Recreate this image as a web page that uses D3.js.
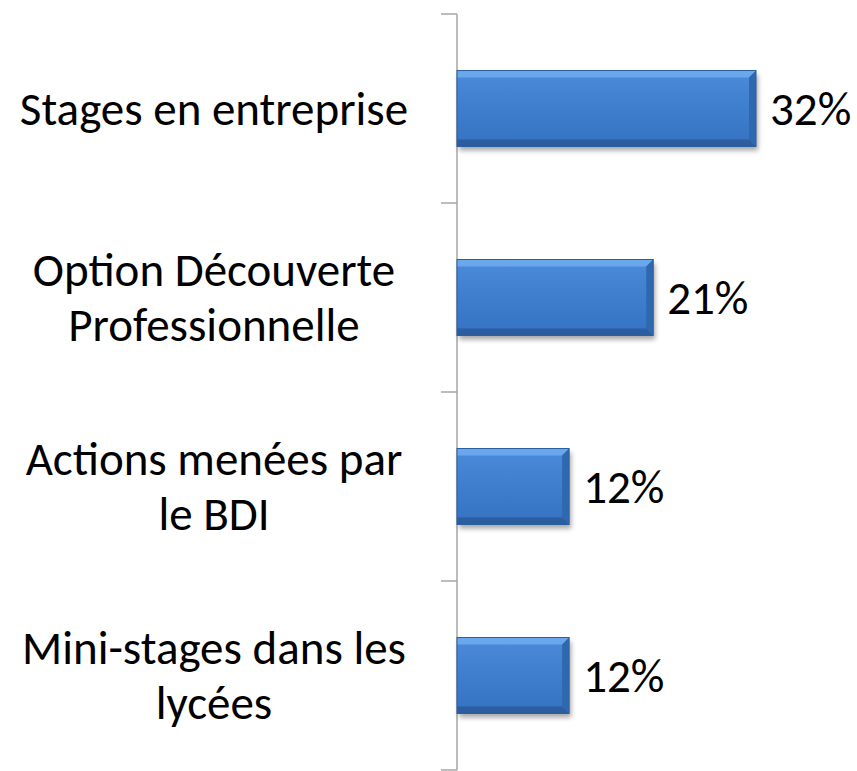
<!DOCTYPE html>
<meta charset="utf-8">
<style>
body { margin: 0; background: #fff; }
svg { font-family: Carlito, Calibri, Lato, "Open Sans", sans-serif; }
.label { font-size: 47px; fill: #000; }
</style>
<svg width="857" height="771"></svg>
<script src="https://cdn.jsdelivr.net/npm/d3@7"></script>
<script>

var categories = [
  ["Stages en entreprise"],
  ["Option Découverte", "Professionnelle"],
  ["Actions menées par", "le BDI"],
  ["Mini-stages dans les", "lycées"]
];
var values = [0.32, 0.21, 0.12, 0.12];
var valueLabels = ["32%", "21%", "12%", "12%"];

var data = categories.map(function(c, i) {
  return { name: c.join(" "), lines: c, value: values[i], label: valueLabels[i] };
});

var svg = d3.select("svg"),
    axisX = 457,
    yTop = 14,
    yBottom = 770,
    lineHeight = 55,
    bevel = 7;

var y = d3.scaleBand()
    .domain(data.map(function(d) { return d.name; }))
    .range([yTop, yBottom])
    .paddingInner(0.598)
    .paddingOuter(0.299);

var x = d3.scaleLinear()
    .domain([0, 0.32])
    .range([axisX, 756]);

var defs = svg.append("defs");

var grad = defs.append("linearGradient")
    .attr("id", "barGrad")
    .attr("x1", 0).attr("y1", 0).attr("x2", 0).attr("y2", 1);
grad.append("stop").attr("offset", "0%").attr("stop-color", "#4b8bd9");
grad.append("stop").attr("offset", "50%").attr("stop-color", "#3e7ecd");
grad.append("stop").attr("offset", "100%").attr("stop-color", "#3472c2");

var shadow = defs.append("filter")
    .attr("id", "shadow")
    .attr("x", "-10%").attr("y", "-10%")
    .attr("width", "130%").attr("height", "140%");
shadow.append("feGaussianBlur").attr("in", "SourceAlpha").attr("stdDeviation", 2.5);
shadow.append("feOffset").attr("dx", 2).attr("dy", 4).attr("result", "off");
shadow.append("feComponentTransfer").append("feFuncA").attr("type", "linear").attr("slope", 0.35);
var merge = shadow.append("feMerge");
merge.append("feMergeNode");
merge.append("feMergeNode").attr("in", "SourceGraphic");

// axis line + ticks at band boundaries
svg.append("line")
    .attr("x1", axisX).attr("x2", axisX)
    .attr("y1", yTop).attr("y2", yBottom)
    .attr("stroke", "#a6a6a6")
    .attr("stroke-width", 1.5);

svg.selectAll(".tick")
    .data(d3.range(data.length + 1))
    .enter().append("line")
    .attr("class", "tick")
    .attr("x1", axisX - 16).attr("x2", axisX)
    .attr("y1", function(i) { return yTop + i * y.step(); })
    .attr("y2", function(i) { return yTop + i * y.step(); })
    .attr("stroke", "#a6a6a6")
    .attr("stroke-width", 1.5);

var bar = svg.selectAll(".bar")
    .data(data)
    .enter().append("g")
    .attr("class", "bar")
    .attr("transform", function(d) { return "translate(" + axisX + "," + y(d.name) + ")"; });

bar.append("rect")
    .attr("width", function(d) { return x(d.value) - axisX; })
    .attr("height", y.bandwidth())
    .attr("fill", "url(#barGrad)")
    .attr("filter", "url(#shadow)");

// bevel: top light, bottom dark, right dark
bar.append("polygon")
    .attr("points", function(d) {
      var w = x(d.value) - axisX;
      return [[0, 0], [w, 0], [w - bevel, bevel], [0, bevel]].join(" ");
    })
    .attr("fill", "#6dabee")
    .attr("opacity", 0.9);

bar.append("polygon")
    .attr("points", function(d) {
      var w = x(d.value) - axisX, h = y.bandwidth();
      return [[0, h], [w, h], [w - bevel, h - bevel], [0, h - bevel]].join(" ");
    })
    .attr("fill", "#2b5d9f");

bar.append("polygon")
    .attr("points", function(d) {
      var w = x(d.value) - axisX, h = y.bandwidth();
      return [[w, 0], [w, h], [w - bevel, h - bevel], [w - bevel, bevel]].join(" ");
    })
    .attr("fill", "#3068b0");

bar.append("rect")
    .attr("width", function(d) { return x(d.value) - axisX; })
    .attr("height", y.bandwidth())
    .attr("fill", "none")
    .attr("stroke", "#2d5f9f")
    .attr("stroke-width", 1);

// value labels
svg.selectAll(".value")
    .data(data)
    .enter().append("text")
    .attr("class", "label value")
    .attr("x", function(d) { return x(d.value) + 14; })
    .attr("y", function(d) { return y(d.name) + y.bandwidth() / 2; })
    .attr("dy", "0.35em")
    .text(function(d) { return d.label; });

// category labels
var cat = svg.selectAll(".cat")
    .data(data)
    .enter().append("text")
    .attr("class", "label cat")
    .attr("text-anchor", "middle");

cat.selectAll("tspan")
    .data(function(d) {
      var mid = y(d.name) + y.bandwidth() / 2;
      return d.lines.map(function(l, i) {
        return { text: l, y: mid + (i - (d.lines.length - 1) / 2) * lineHeight };
      });
    })
    .enter().append("tspan")
    .attr("x", 214)
    .attr("y", function(t) { return t.y; })
    .attr("dy", "0.35em")
    .text(function(t) { return t.text; });

</script>
